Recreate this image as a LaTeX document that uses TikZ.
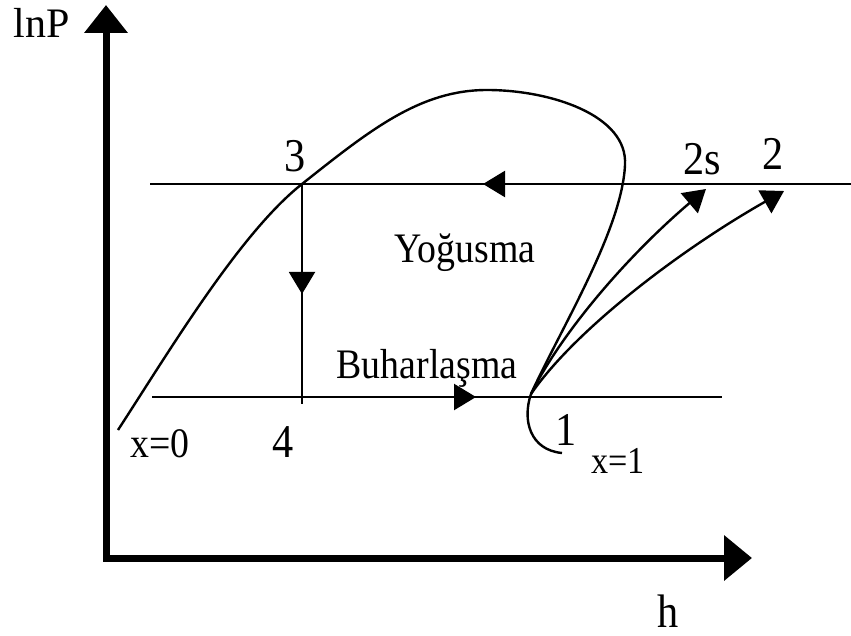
\documentclass[tikz,border=0pt]{standalone}
\usepackage{fontspec}
\usepackage{graphicx}
\setmainfont{Liberation Serif}
\usetikzlibrary{arrows.meta}
\newcommand{\nrw}[1]{\scalebox{0.9}[1]{#1}}
\begin{document}
\begin{tikzpicture}[x=1pt,y=-1pt,
  thinline/.style={line width=2.4pt},
  tipA/.style={-{Triangle[length=22pt,width=26pt]}},
  axisline/.style={line width=7pt,line join=miter,
     {Triangle[length=28pt,width=42pt]}-{Triangle[length=28pt,width=44pt]}},
  lab/.style={anchor=base,inner sep=0pt,text depth=0pt,font=\fontsize{42}{44}\selectfont},
  num/.style={anchor=base,inner sep=0pt,text depth=0pt,font=\fontsize{47}{50}\selectfont},
  sml/.style={anchor=base,inner sep=0pt,text depth=0pt,font=\fontsize{38}{40}\selectfont}]
\useasboundingbox (0,0) rectangle (851,636);

% points
\coordinate (P1) at (531,394);
\coordinate (P2s) at (706,189);
\coordinate (P2) at (784,191);
\coordinate (P3) at (302,184);
\coordinate (P4) at (302,397);
\coordinate (TL) at (150,184);
\coordinate (TR) at (851,184);
\coordinate (BL) at (152,397);
\coordinate (BR) at (722,397);
\coordinate (Ytop) at (106,5);
\coordinate (O) at (106,558);
\coordinate (Xend) at (752,558);
\coordinate (X0) at (118,430);
\coordinate (Peak) at (487,90);
\coordinate (Rmax) at (625,165);
\coordinate (Hook) at (562,453);

% axes
\draw[axisline] (Ytop) -- (O) -- (Xend);

% condensation line (top)
\draw[thinline] (TL) -- (TR);
\draw[thinline,tipA] (560,184) -- (483,184);

% evaporation line (bottom)
\draw[thinline] (BL) -- (BR);
\draw[thinline,tipA] (400,397) -- (476,397);

% expansion 3-4
\draw[line width=2pt] (P3) -- (302,404);
\draw[line width=2pt,tipA] (P3) -- (302,294);

% saturation dome
\draw[line width=2.4pt] (X0) .. controls (170,350) and (240,233) .. (P3)
  .. controls (370,130) and (420,90) .. (Peak)
  .. controls (550,90) and (628,115) .. (Rmax)
  .. controls (622,230) and (560,330) .. (P1)
  .. controls (522,420) and (530,450) .. (Hook);

% compression curves
\draw[thinline,tipA] (P1) .. controls (560,335) and (625,258) .. (P2s);
\draw[thinline,tipA] (P1) .. controls (575,330) and (680,250) .. (P2);

% labels
\node[lab] (lnP) at (42,38) {lnP};
\node[num] (h) at (668,627) {\nrw{h}};
\node[num] (n3) at (295,172) {\nrw{3}};
\node[num] (n2s) at (702,175) {\nrw{2s}};
\node[num] (n2) at (773,170) {\nrw{2}};
\node[lab] (yog) at (465,263) {\nrw{Yoğusma}};
\node[lab] (buh) at (427,378) {\nrw{Buharlaşma}};
\node[lab] (x0) at (160,457) {\nrw{x=0}};
\node[num] (n4) at (283,457) {\nrw{4}};
\node[num] (n1) at (566,445) {\nrw{1}};
\node[sml] (x1) at (618,473) {\nrw{x=1}};
\end{tikzpicture}
\end{document}
